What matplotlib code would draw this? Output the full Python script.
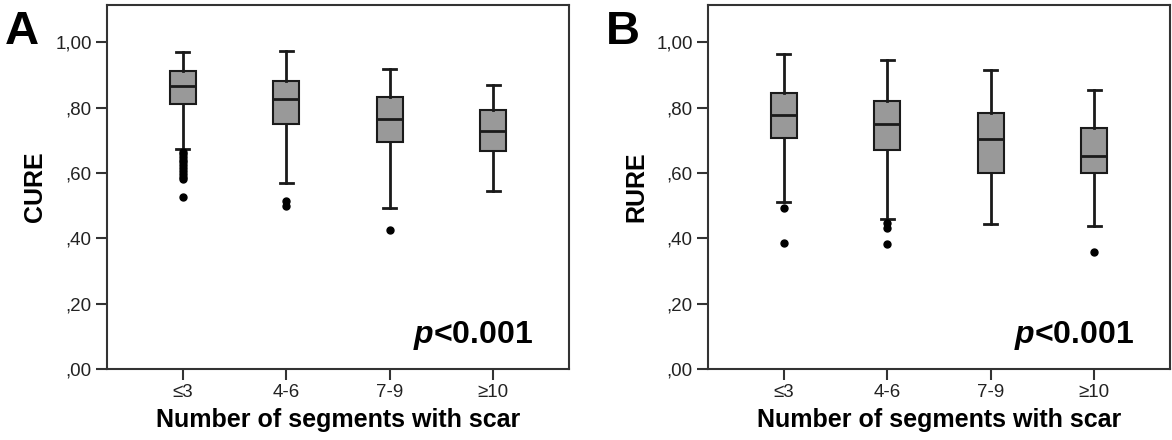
import matplotlib
matplotlib.use('Agg')
import matplotlib.pyplot as plt

plt.rcParams['font.family'] = ['Liberation Sans', 'DejaVu Sans']
plt.rcParams['mathtext.fontset'] = 'custom'
plt.rcParams['mathtext.it'] = 'Liberation Sans:italic:bold'
plt.rcParams['mathtext.rm'] = 'Liberation Sans:bold'

groups = ['≤3', '4-6', '7-9', '≥10']

# CURE: whisker low, Q1, median, Q3, whisker high
cure_whislo = [0.673, 0.568, 0.492, 0.544]
cure_q1 = [0.812, 0.751, 0.694, 0.667]
cure_med = [0.866, 0.826, 0.766, 0.728]
cure_q3 = [0.911, 0.882, 0.831, 0.793]
cure_whishi = [0.971, 0.973, 0.917, 0.869]
cure_fliers = [
    [0.665, 0.657, 0.648, 0.640, 0.632, 0.624, 0.616, 0.607, 0.598, 0.589, 0.581, 0.527],
    [0.514, 0.500],
    [0.426],
    [],
]

# RURE
rure_whislo = [0.512, 0.459, 0.443, 0.439]
rure_q1 = [0.707, 0.669, 0.601, 0.601]
rure_med = [0.777, 0.750, 0.704, 0.651]
rure_q3 = [0.844, 0.821, 0.784, 0.736]
rure_whishi = [0.963, 0.947, 0.916, 0.854]
rure_fliers = [
    [0.492, 0.387],
    [0.446, 0.431, 0.383],
    [],
    [0.357],
]

yticks = [0.0, 0.2, 0.4, 0.6, 0.8, 1.0]
ytick_labels = [',00', ',20', ',40', ',60', ',80', '1,00']


def make_stats(lo, q1, med, q3, hi, fl):
    stats = []
    for i in range(len(groups)):
        stats.append({'whislo': lo[i], 'q1': q1[i], 'med': med[i],
                      'q3': q3[i], 'whishi': hi[i], 'fliers': fl[i]})
    return stats


def draw_panel(ax, stats, ylabel, letter):
    ax.bxp(stats, positions=[1, 2, 3, 4], widths=0.25, capwidths=0.125,
           patch_artist=True, showfliers=True,
           boxprops=dict(facecolor='#999999', edgecolor='#1a1a1a', linewidth=1.5),
           medianprops=dict(color='#1a1a1a', linewidth=2),
           whiskerprops=dict(color='#1a1a1a', linewidth=2),
           capprops=dict(color='#1a1a1a', linewidth=2),
           flierprops=dict(marker='o', markersize=5, markerfacecolor='black',
                           markeredgecolor='black'))
    ax.set_xlim(0.27, 4.73)
    ax.set_ylim(0, 1.114)
    ax.set_xticks([1, 2, 3, 4])
    ax.set_xticklabels(groups)
    ax.set_yticks(yticks)
    ax.set_yticklabels(ytick_labels)
    ax.tick_params(axis='both', labelsize=13.5, length=8, width=1.5,
                   color='#333333', labelcolor='#222222', pad=3)
    for s in ax.spines.values():
        s.set_linewidth(1.5)
        s.set_color('#333333')
    ax.set_ylabel(ylabel, fontsize=18, fontweight='bold', labelpad=6)
    ax.set_xlabel('Number of segments with scar', fontsize=18, fontweight='bold', labelpad=5)
    ax.text(0.922, 0.071, '$p$<0.001', transform=ax.transAxes, ha='right',
            va='baseline', fontsize=23, fontweight='bold')
    ax.text(-0.222, 0.893, letter, transform=ax.transAxes, ha='left',
            va='baseline', fontsize=34, fontweight='bold')


fig = plt.figure(figsize=(11.72, 4.4), dpi=100)
ax1 = fig.add_axes([0.0913, 0.1614, 0.3942, 0.8273])
ax2 = fig.add_axes([0.6041, 0.1614, 0.3942, 0.8273])

draw_panel(ax1, make_stats(cure_whislo, cure_q1, cure_med, cure_q3, cure_whishi, cure_fliers), 'CURE', 'A')
draw_panel(ax2, make_stats(rure_whislo, rure_q1, rure_med, rure_q3, rure_whishi, rure_fliers), 'RURE', 'B')

fig.savefig('out.png', dpi=100)
